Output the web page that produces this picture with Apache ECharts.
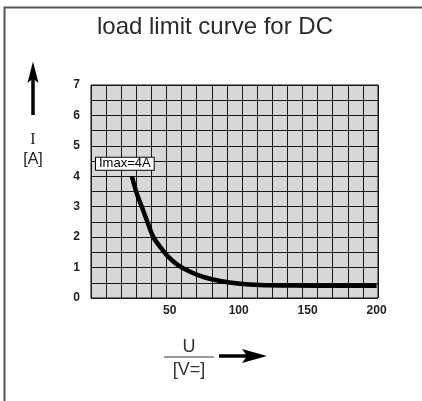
<!DOCTYPE html>
<html>
<head>
<meta charset="utf-8">
<script src="https://cdn.jsdelivr.net/npm/echarts@6/dist/echarts.min.js"></script>
<style>
html,body{margin:0;padding:0;background:#fff;}
#c{width:422px;height:401px;}
</style>
</head>
<body>
<div id="c"></div>
<script>
// Data
const voltageU = [22.6, 26.2, 29.9, 33.9, 38.2, 43.1, 49.1, 56.3, 64.8, 74.4, 86.5, 101, 115.4, 140, 170, 200];
const currentI = [4.0, 3.43, 2.99, 2.5, 2.0, 1.68, 1.35, 1.07, 0.86, 0.69, 0.56, 0.47, 0.43, 0.41, 0.4, 0.4];
const xTickLabels = [50, 100, 150, 200];
const yTickLabels = [0, 1, 2, 3, 4, 5, 6, 7];
const titleText = 'load limit curve for DC';
const imaxLabel = 'Imax=4A';

const chart = echarts.init(document.getElementById('c'));
const curve = voltageU.map((u, i) => [u, currentI[i]]);
const labelFont = {fontFamily: 'Liberation Sans', fontSize: 12, fontWeight: 'bold', color: '#222'};

chart.setOption({
  animation: false,
  backgroundColor: '#fff',
  grid: {left: 91, top: 85, width: 287, height: 213, show: true, backgroundColor: '#d8d8d8', borderColor: '#111', borderWidth: 1, z: 0},
  xAxis: [
    {type: 'value', min: -7, max: 201, axisLine: {show: false}, axisTick: {show: false}, splitLine: {show: false},
     axisLabel: Object.assign({customValues: xTickLabels, margin: 7}, labelFont)},
    {type: 'value', min: 0, max: 19, interval: 1, position: 'bottom', axisLine: {show: false}, axisTick: {show: false},
     axisLabel: {show: false}, splitLine: {show: true, lineStyle: {color: '#1a1a1a', width: 1}}}
  ],
  yAxis: {type: 'value', min: 0, max: 7, interval: 0.5, axisLine: {show: false}, axisTick: {show: false},
    splitLine: {show: true, lineStyle: {color: '#1a1a1a', width: 1}},
    axisLabel: Object.assign({customValues: yTickLabels, margin: 11}, labelFont)},
  series: [
    {type: 'line', xAxisIndex: 0, data: curve, smooth: 0.3, symbol: 'none',
     lineStyle: {color: '#000', width: 4.5}, z: 5,
     markPoint: {
       symbol: 'rect', symbolSize: 1, itemStyle: {color: 'rgba(0,0,0,0)'}, silent: true,
       data: [{coord: curve[0]}],
       label: {show: true, formatter: imaxLabel, position: 'top', distance: 6, offset: [-7, 0],
         fontFamily: 'Liberation Sans', fontSize: 13, color: '#000', backgroundColor: '#fff',
         borderColor: '#000', borderWidth: 1, padding: [0, 3], lineHeight: 12}
     }}
  ],
  graphic: [
    {type: 'polyline', shape: {points: [[4.5, 401], [4.5, 7.5], [422, 7.5]]}, style: {stroke: '#555', lineWidth: 2, fill: null}},
    {type: 'text', x: 215, y: 27, style: {text: titleText, font: '24px "Liberation Sans"', fill: '#2a2a2a', textAlign: 'center', textVerticalAlign: 'middle'}},
    // Y axis title with arrow
    {type: 'line', shape: {x1: 33, y1: 78, x2: 33, y2: 115}, style: {stroke: '#000', lineWidth: 3.5}},
    {type: 'polygon', shape: {points: [[33, 61.5], [27.5, 83], [33, 78.5], [38.5, 83]]}, style: {fill: '#000'}},
    {type: 'text', x: 33, y: 140, style: {text: 'I', font: '16px "Liberation Serif"', fill: '#222', textAlign: 'center', textVerticalAlign: 'middle'}},
    {type: 'text', x: 33, y: 160, style: {text: '[A]', font: '16px "Liberation Sans"', fill: '#222', textAlign: 'center', textVerticalAlign: 'middle'}},
    // X axis title with arrow
    {type: 'text', x: 189, y: 347, style: {text: 'U', font: '18px "Liberation Sans"', fill: '#333', textAlign: 'center', textVerticalAlign: 'middle'}},
    {type: 'line', shape: {x1: 164, y1: 357, x2: 214, y2: 357}, style: {stroke: '#777', lineWidth: 1.5}},
    {type: 'text', x: 189, y: 370, style: {text: '[V=]', font: '18px "Liberation Sans"', fill: '#333', textAlign: 'center', textVerticalAlign: 'middle'}},
    {type: 'line', shape: {x1: 219, y1: 356, x2: 248, y2: 356}, style: {stroke: '#000', lineWidth: 3.5}},
    {type: 'polygon', shape: {points: [[267, 356], [242, 349], [247, 356], [242, 363]]}, style: {fill: '#000'}}
  ]
});
</script>
</body>
</html>
